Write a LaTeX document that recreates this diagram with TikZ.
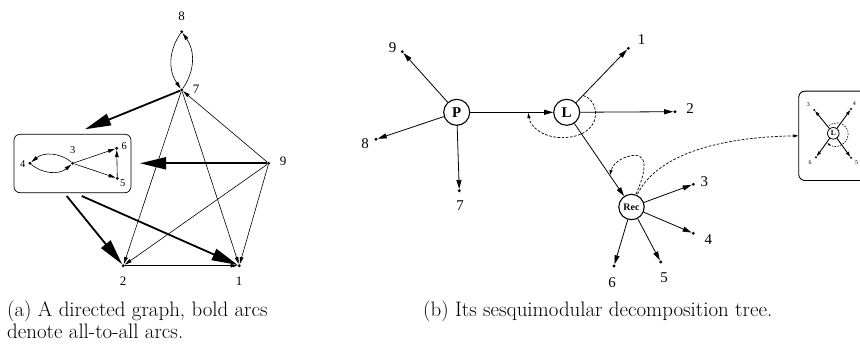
\documentclass[tikz,border=0pt]{standalone}
\usepackage{fontspec}
\newfontfamily\timesf{Liberation Serif}
\usetikzlibrary{arrows.meta}
\begin{document}
\begin{tikzpicture}[x=1bp,y=-1bp,
  thinarr/.style={-{Triangle[length=7bp,width=3.6bp]}, line width=0.6bp},
  boldarr/.style={-{Triangle[length=26bp,width=12bp]}, line width=1.8bp},
  treearr/.style={-{Triangle[length=9bp,width=5bp]}, line width=0.8bp},
  miniarr/.style={-{Triangle[length=5bp,width=3bp]}, line width=0.9bp},
  dasharr/.style={dash pattern=on 2.6bp off 1.6bp, line width=0.7bp, -{Triangle[length=5bp,width=3bp]}},
  vdot/.style={circle, fill, inner sep=0pt, minimum size=3.2bp},
  mdot/.style={circle, fill, inner sep=0pt, minimum size=2.2bp},
  glab/.style={inner sep=0pt, font=\timesf\fontsize{13}{13}\selectfont},
  blab/.style={inner sep=0pt, font=\timesf\fontsize{10.5}{10.5}\selectfont},
  tlab/.style={inner sep=0pt, font=\timesf\fontsize{15}{15}\selectfont},
  mlab/.style={inner sep=0pt, font=\timesf\fontsize{6}{6}\selectfont},
  tnode/.style={circle, draw, line width=1.1bp, inner sep=0pt, minimum size=26bp, font=\timesf\bfseries\fontsize{15}{15}\selectfont},
  capt/.style={anchor=base west, inner sep=0pt, font=\fontsize{21}{22}\selectfont},
]
\useasboundingbox (0,0) rectangle (860,347);
\clip (0,0) rectangle (860,347);

% ---------- (a) directed graph ----------
\node[draw, rounded corners=6bp, line width=0.7bp, minimum width=117bp, minimum height=58.4bp, inner sep=0pt] (box) at (72.5,163.5) {};
\node[vdot] (g8) at (181.7,31.7) {};
\node[vdot] (g7) at (181.7,90) {};
\node[vdot] (g9) at (268.7,163.3) {};
\node[vdot] (g2) at (123.3,265.7) {};
\node[vdot] (g1) at (239.3,265.7) {};
\node[vdot] (g4) at (30,163.3) {};
\node[vdot] (g3) at (72.7,163.3) {};
\node[vdot] (g6) at (116.7,148.3) {};
\node[vdot] (g5) at (117.3,178.3) {};

\node[glab] (l8) at (181.7,16) {8};
\node[glab] (l7) at (196,89) {7};
\node[glab] (l9) at (283,161.7) {9};
\node[glab] (l2) at (123,281) {2};
\node[glab] (l1) at (239,281) {1};
\node[blab] (l4) at (22.7,164) {4};
\node[blab] (l3) at (72.7,150) {3};
\node[blab] (l6) at (124.3,145.7) {6};
\node[blab] (l5) at (122.7,182.7) {5};

\draw[thinarr] (g8) to[bend right=35] (g7);
\draw[thinarr] (g7) to[bend right=35] (g8);
\draw[thinarr] (g7) -- (g2);
\draw[thinarr] (g7) -- (g1);
\draw[thinarr] (g9) -- (g7);
\draw[thinarr] (g9) -- (g2);
\draw[thinarr] (g9) -- (g1);
\draw[thinarr] (g2) -- (g1);
\draw[thinarr] (g3) to[bend right=40] (g4);
\draw[thinarr] (g4) to[bend right=40] (g3);
\draw[thinarr] (g3) -- (g6);
\draw[thinarr] (g3) -- (g5);
\draw[thinarr] (g5) -- (g6);

\coordinate (bx1) at (85,129.3);
\coordinate (bx2) at (140,163.3);
\coordinate (bx3) at (66.7,196);
\coordinate (bx4) at (81.7,196);
\draw[boldarr] (g7) -- (bx1);
\draw[boldarr] (g9) -- (bx2);
\draw[boldarr] (bx3) -- (g2);
\draw[boldarr] (bx4) -- (g1);

% ---------- (b) decomposition tree ----------
\node[tnode] (P) at (456.7,112.3) {P};
\node[tnode] (L) at (566.7,112.3) {L};
\node[tnode, minimum size=25.4bp, font=\timesf\bfseries\fontsize{10}{10}\selectfont] (Rec) at (631.5,207) {Rec};

\node[vdot] (t9) at (402.3,51.7) {};
\node[vdot] (t8) at (376,139.3) {};
\node[vdot] (t7) at (459.3,190.7) {};
\node[vdot] (t1) at (628.3,48.3) {};
\node[vdot] (t2) at (675,111.7) {};
\node[vdot] (t3) at (693.3,184.3) {};
\node[vdot] (t4) at (693.3,233.3) {};
\node[vdot] (t6) at (614,266) {};
\node[vdot] (t5) at (660.7,262) {};

\node[tlab] (m9) at (392.7,47.7) {9};
\node[tlab] (m8) at (365,143.3) {8};
\node[tlab] (m7) at (460,206) {7};
\node[tlab] (m1) at (641.7,39.3) {1};
\node[tlab] (m2) at (690,108.3) {2};
\node[tlab] (m3) at (704.3,181.7) {3};
\node[tlab] (m4) at (708.3,240) {4};
\node[tlab] (m6) at (612,283) {6};
\node[tlab] (m5) at (664,278) {5};

\draw[treearr] (P) -- (t9);
\draw[treearr] (P) -- (t8);
\draw[treearr] (P) -- (t7);
\draw[treearr] (P) -- (L);
\draw[treearr] (L) -- (t1);
\draw[treearr] (L) -- (t2);
\draw[treearr] (L) -- (Rec);
\draw[treearr] (Rec) -- (t3);
\draw[treearr] (Rec) -- (t4);
\draw[treearr] (Rec) -- (t6);
\draw[treearr] (Rec) -- (t5);

% dashed arcs
\coordinate (dLs) at (583.3,95.5);
\coordinate (dLe) at (528.3,113);
\draw[dasharr] (dLs) .. controls (601,101) and (603,135) .. (566,137.5)
                .. controls (543,139) and (530,126) .. (dLe);
\coordinate (dRs) at (636,194);
\coordinate (dRe) at (610,175);
\draw[dasharr] (dRs) .. controls (646,172) and (650,150) .. (628,156.5)
                .. controls (618,159) and (612,166) .. (dRe);

% right box
\node[draw, rounded corners=6bp, line width=0.9bp, minimum width=90bp, minimum height=89.3bp, anchor=north west, inner sep=0pt] (rbox) at (798.3,90.7) {};
\coordinate (dXs) at (637.5,194);
\draw[dasharr] (dXs) .. controls (660,150) and (730,137) .. (rbox.west);

\node[circle, draw, line width=0.8bp, inner sep=0pt, minimum size=11.6bp, font=\timesf\bfseries\fontsize{7.5}{7.5}\selectfont] (mL) at (833.3,133.3) {L};
\node[mdot] (u3) at (814.3,110) {};
\node[mdot] (u4) at (851,109) {};
\node[mdot] (u6) at (816,157.3) {};
\node[mdot] (u5) at (851,157.7) {};
\node[mlab] (n3) at (808.3,105) {3};
\node[mlab] (n4) at (854.3,104) {4};
\node[mlab] (n6) at (810,162.7) {6};
\node[mlab] (n5) at (856.7,162.3) {5};
\draw[miniarr] (mL) -- (u3);
\draw[miniarr] (mL) -- (u4);
\draw[miniarr] (mL) -- (u6);
\draw[miniarr] (mL) -- (u5);
\coordinate (dMs) at (829,125.5);
\draw[dash pattern=on 1.6bp off 1.2bp, line width=0.6bp, -{Triangle[length=3bp,width=2bp]}] (dMs) .. controls (840,118) and (852,128) .. (847,139) .. controls (843,147) and (833,148) .. (827.5,143);

% ---------- captions ----------
\node[capt] (capa1) at (7,316.5) {(a) A directed graph, bold arcs};
\node[capt] (capa2) at (7,338.5) {denote all-to-all arcs.};
\node[capt] (capb) at (423,316.5) {(b) Its sesquimodular decomposition tree.};
\end{tikzpicture}
\end{document}
